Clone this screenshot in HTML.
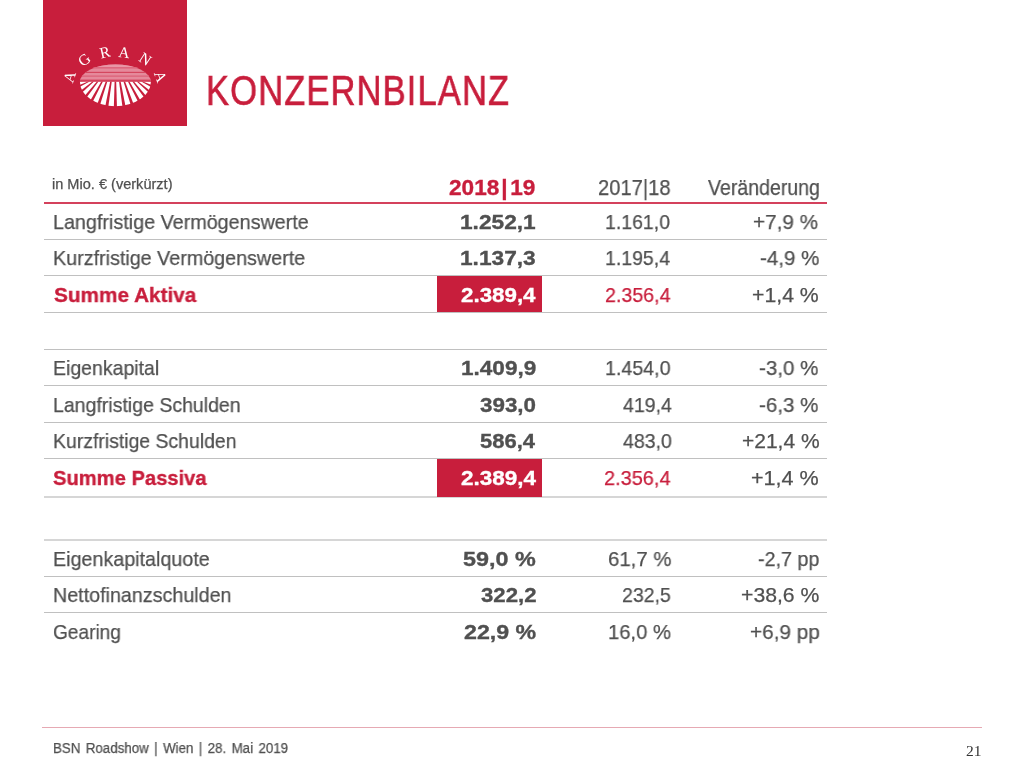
<!DOCTYPE html>
<html><head><meta charset="utf-8"><style>
html,body{margin:0;padding:0;background:#fff;width:1024px;height:768px;overflow:hidden;position:relative}
div,svg{will-change:transform}
</style></head><body>
<svg width="1024" height="130" style="position:absolute;left:0;top:0">
<rect x="43" y="0" width="144" height="126" fill="#c81e3c"/>
<defs><clipPath id="tp"><path d="M79.9,81.8 A35.5,17.4 0 0 1 150.9,81.8 Z"/></clipPath></defs>
<g clip-path="url(#tp)">
<rect x="70" y="60" width="90" height="21.799999999999997" fill="#e5899b"/>
<rect x="70" y="60" width="90" height="7.5" fill="#e896a6"/>
<rect x="70" y="67.3" width="90" height="1.1" fill="#d9566f"/>
<rect x="70" y="71.8" width="90" height="1.2" fill="#d4475f"/>
<rect x="70" y="75.6" width="90" height="1.0" fill="#d9566f"/>
<rect x="70" y="79.6" width="90" height="2.3" fill="#d4405a"/>
</g>
<defs><clipPath id="bt"><path d="M79.9,81.8 A35.5,24.4 0 0 0 150.9,81.8 Z"/></clipPath></defs>
<g clip-path="url(#bt)">
<polygon points="85.23,81.50 88.06,81.50 77.48,85.67 77.29,84.71 77.16,83.74 77.09,82.77 77.06,81.80" fill="#fff"/>
<polygon points="142.74,81.50 145.58,81.50 153.74,81.80 153.71,82.77 153.64,83.74 153.51,84.71 153.32,85.67" fill="#fff"/>
<polygon points="89.65,81.50 92.48,81.50 79.76,91.52 79.27,90.61 78.82,89.69 78.42,88.76 78.07,87.82" fill="#fff"/>
<polygon points="138.32,81.50 141.15,81.50 152.73,87.82 152.38,88.76 151.98,89.69 151.53,90.61 151.04,91.52" fill="#fff"/>
<polygon points="94.07,81.50 96.91,81.50 83.93,96.85 83.15,96.05 82.40,95.22 81.71,94.38 81.06,93.51" fill="#fff"/>
<polygon points="133.89,81.50 136.73,81.50 149.74,93.51 149.09,94.38 148.40,95.22 147.65,96.05 146.87,96.85" fill="#fff"/>
<polygon points="98.50,81.50 101.33,81.50 89.76,101.39 88.73,100.73 87.73,100.04 86.77,99.33 85.85,98.59" fill="#fff"/>
<polygon points="129.47,81.50 132.30,81.50 144.95,98.59 144.03,99.33 143.07,100.04 142.07,100.73 141.04,101.39" fill="#fff"/>
<polygon points="102.92,81.50 105.75,81.50 96.95,104.90 95.72,104.42 94.52,103.90 93.35,103.36 92.21,102.79" fill="#fff"/>
<polygon points="125.05,81.50 127.88,81.50 138.59,102.79 137.45,103.36 136.28,103.90 135.08,104.42 133.85,104.90" fill="#fff"/>
<polygon points="107.35,81.50 110.18,81.50 105.11,107.18 103.75,106.91 102.42,106.59 101.10,106.25 99.79,105.87" fill="#fff"/>
<polygon points="120.62,81.50 123.45,81.50 131.01,105.87 129.70,106.25 128.38,106.59 127.05,106.91 125.69,107.18" fill="#fff"/>
<polygon points="111.77,81.50 114.60,81.50 113.81,108.13 112.40,108.07 110.99,107.98 109.59,107.85 108.20,107.68" fill="#fff"/>
<polygon points="116.20,81.50 119.03,81.50 122.60,107.68 121.21,107.85 119.81,107.98 118.40,108.07 116.99,108.13" fill="#fff"/>
</g>
<text transform="translate(69.7,77) rotate(-72)" x="0" y="5" text-anchor="middle" font-family="Liberation Serif" font-size="15.5" fill="#fff">A</text>
<text transform="translate(84.3,59.9) rotate(-38)" x="0" y="5" text-anchor="middle" font-family="Liberation Serif" font-size="15.5" fill="#fff">G</text>
<text transform="translate(104.8,52.5) rotate(-13)" x="0" y="5" text-anchor="middle" font-family="Liberation Serif" font-size="15.5" fill="#fff">R</text>
<text transform="translate(124.2,52.5) rotate(6)" x="0" y="5" text-anchor="middle" font-family="Liberation Serif" font-size="15.5" fill="#fff">A</text>
<text transform="translate(145.2,59.2) rotate(33)" x="0" y="5" text-anchor="middle" font-family="Liberation Serif" font-size="15.5" fill="#fff">N</text>
<text transform="translate(160.3,76.6) rotate(70)" x="0" y="5" text-anchor="middle" font-family="Liberation Serif" font-size="15.5" fill="#fff">A</text>
</svg>
<div style="position:absolute;left:206.24px;top:65.77px;font:normal 42.6px/48.95px 'Liberation Sans';color:#c81e3c;white-space:nowrap;transform:scaleX(0.8126);transform-origin:0 0;-webkit-text-stroke:0.25px #c81e3c;"><span style="letter-spacing:1.3px;-webkit-text-stroke:0.6px #c81e3c">KONZERNBILANZ</span></div><div style="position:absolute;left:52.35px;top:176.11px;font:normal 14px/16.09px 'Liberation Sans';color:#505050;white-space:nowrap;transform:scaleX(1.0395);transform-origin:0 0;-webkit-text-stroke:0.25px #505050;">in Mio. € (verkürzt)</div><div style="position:absolute;left:448.80px;top:174.74px;font:bold 22px/25.28px 'Liberation Sans';color:#c81e3c;white-space:nowrap;transform:scaleX(1.0276);transform-origin:0 0;-webkit-text-stroke:0.35px #c81e3c;">2018<span style="margin:0 2.5px 0 2px">|</span>19</div><div style="position:absolute;left:597.92px;top:174.74px;font:normal 22px/25.28px 'Liberation Sans';color:#505050;white-space:nowrap;transform:scaleX(0.9158);transform-origin:0 0;-webkit-text-stroke:0.25px #505050;">2017|18</div><div style="position:absolute;left:707.58px;top:174.74px;font:normal 22px/25.28px 'Liberation Sans';color:#505050;white-space:nowrap;transform:scaleX(0.8883);transform-origin:0 0;-webkit-text-stroke:0.25px #505050;">Veränderung</div><div style="position:absolute;left:44px;top:202px;width:783px;height:2px;background:#d4415c"></div><div style="position:absolute;left:44px;top:239px;width:783px;height:1px;background:#c0c0c0"></div><div style="position:absolute;left:44px;top:275px;width:783px;height:1px;background:#c0c0c0"></div><div style="position:absolute;left:44px;top:312px;width:783px;height:1px;background:#c0c0c0"></div><div style="position:absolute;left:44px;top:349px;width:783px;height:1px;background:#c0c0c0"></div><div style="position:absolute;left:44px;top:385px;width:783px;height:1px;background:#c0c0c0"></div><div style="position:absolute;left:44px;top:422px;width:783px;height:1px;background:#c0c0c0"></div><div style="position:absolute;left:44px;top:458px;width:783px;height:1px;background:#c0c0c0"></div><div style="position:absolute;left:44px;top:576px;width:783px;height:1px;background:#c0c0c0"></div><div style="position:absolute;left:44px;top:612px;width:783px;height:1px;background:#c0c0c0"></div><div style="position:absolute;left:44px;top:496px;width:783px;height:2px;background:#d6d6d6"></div><div style="position:absolute;left:44px;top:539px;width:783px;height:2px;background:#d6d6d6"></div><div style="position:absolute;left:437px;top:276px;width:105px;height:36px;background:#c81e3c"></div><div style="position:absolute;left:437px;top:459px;width:105px;height:38px;background:#c81e3c"></div><div style="position:absolute;left:52.65px;top:209.66px;font:normal 21px/24.13px 'Liberation Sans';color:#505050;white-space:nowrap;transform:scaleX(0.9403);transform-origin:0 0;-webkit-text-stroke:0.25px #505050;">Langfristige Vermögenswerte</div><div style="position:absolute;left:459.92px;top:209.66px;font:bold 21px/24.13px 'Liberation Sans';color:#505050;white-space:nowrap;transform:scaleX(1.0807);transform-origin:0 0;-webkit-text-stroke:0.35px #505050;">1.252,1</div><div style="position:absolute;left:605.07px;top:209.66px;font:normal 21px/24.13px 'Liberation Sans';color:#505050;white-space:nowrap;transform:scaleX(0.9274);transform-origin:0 0;-webkit-text-stroke:0.25px #505050;">1.161,0</div><div style="position:absolute;left:753.45px;top:209.66px;font:normal 21px/24.13px 'Liberation Sans';color:#505050;white-space:nowrap;transform:scaleX(0.9874);transform-origin:0 0;-webkit-text-stroke:0.25px #505050;">+7,9 %</div><div style="position:absolute;left:52.65px;top:245.66px;font:normal 21px/24.13px 'Liberation Sans';color:#505050;white-space:nowrap;transform:scaleX(0.9394);transform-origin:0 0;-webkit-text-stroke:0.25px #505050;">Kurzfristige Vermögenswerte</div><div style="position:absolute;left:459.92px;top:245.66px;font:bold 21px/24.13px 'Liberation Sans';color:#505050;white-space:nowrap;transform:scaleX(1.0807);transform-origin:0 0;-webkit-text-stroke:0.35px #505050;">1.137,3</div><div style="position:absolute;left:605.08px;top:245.66px;font:normal 21px/24.13px 'Liberation Sans';color:#505050;white-space:nowrap;transform:scaleX(0.9282);transform-origin:0 0;-webkit-text-stroke:0.25px #505050;">1.195,4</div><div style="position:absolute;left:759.59px;top:245.66px;font:normal 21px/24.13px 'Liberation Sans';color:#505050;white-space:nowrap;transform:scaleX(0.9782);transform-origin:0 0;-webkit-text-stroke:0.25px #505050;">-4,9 %</div><div style="position:absolute;left:53.78px;top:282.66px;font:bold 21px/24.13px 'Liberation Sans';color:#c81e3c;white-space:nowrap;transform:scaleX(0.9886);transform-origin:0 0;-webkit-text-stroke:0.35px #c81e3c;">Summe Aktiva</div><div style="position:absolute;left:460.84px;top:282.66px;font:bold 21px/24.13px 'Liberation Sans';color:#fff;white-space:nowrap;transform:scaleX(1.0636);transform-origin:0 0;-webkit-text-stroke:0.35px #fff;">2.389,4</div><div style="position:absolute;left:604.89px;top:282.66px;font:normal 21px/24.13px 'Liberation Sans';color:#c81e3c;white-space:nowrap;transform:scaleX(0.9351);transform-origin:0 0;-webkit-text-stroke:0.25px #c81e3c;">2.356,4</div><div style="position:absolute;left:752.39px;top:282.66px;font:normal 21px/24.13px 'Liberation Sans';color:#505050;white-space:nowrap;transform:scaleX(1.0120);transform-origin:0 0;-webkit-text-stroke:0.25px #505050;">+1,4 %</div><div style="position:absolute;left:52.65px;top:355.66px;font:normal 21px/24.13px 'Liberation Sans';color:#505050;white-space:nowrap;transform:scaleX(0.9280);transform-origin:0 0;-webkit-text-stroke:0.25px #505050;">Eigenkapital</div><div style="position:absolute;left:460.85px;top:355.66px;font:bold 21px/24.13px 'Liberation Sans';color:#505050;white-space:nowrap;transform:scaleX(1.0745);transform-origin:0 0;-webkit-text-stroke:0.35px #505050;">1.409,9</div><div style="position:absolute;left:605.48px;top:355.66px;font:normal 21px/24.13px 'Liberation Sans';color:#505050;white-space:nowrap;transform:scaleX(0.9348);transform-origin:0 0;-webkit-text-stroke:0.25px #505050;">1.454,0</div><div style="position:absolute;left:758.83px;top:355.66px;font:normal 21px/24.13px 'Liberation Sans';color:#505050;white-space:nowrap;transform:scaleX(0.9788);transform-origin:0 0;-webkit-text-stroke:0.25px #505050;">-3,0 %</div><div style="position:absolute;left:52.66px;top:392.66px;font:normal 21px/24.13px 'Liberation Sans';color:#505050;white-space:nowrap;transform:scaleX(0.9291);transform-origin:0 0;-webkit-text-stroke:0.25px #505050;">Langfristige Schulden</div><div style="position:absolute;left:479.99px;top:392.66px;font:bold 21px/24.13px 'Liberation Sans';color:#505050;white-space:nowrap;transform:scaleX(1.0658);transform-origin:0 0;-webkit-text-stroke:0.35px #505050;">393,0</div><div style="position:absolute;left:622.58px;top:392.66px;font:normal 21px/24.13px 'Liberation Sans';color:#505050;white-space:nowrap;transform:scaleX(0.9326);transform-origin:0 0;-webkit-text-stroke:0.25px #505050;">419,4</div><div style="position:absolute;left:758.83px;top:392.66px;font:normal 21px/24.13px 'Liberation Sans';color:#505050;white-space:nowrap;transform:scaleX(0.9788);transform-origin:0 0;-webkit-text-stroke:0.25px #505050;">-6,3 %</div><div style="position:absolute;left:52.67px;top:428.66px;font:normal 21px/24.13px 'Liberation Sans';color:#505050;white-space:nowrap;transform:scaleX(0.9248);transform-origin:0 0;-webkit-text-stroke:0.25px #505050;">Kurzfristige Schulden</div><div style="position:absolute;left:479.88px;top:428.66px;font:bold 21px/24.13px 'Liberation Sans';color:#505050;white-space:nowrap;transform:scaleX(1.0467);transform-origin:0 0;-webkit-text-stroke:0.35px #505050;">586,4</div><div style="position:absolute;left:622.60px;top:428.66px;font:normal 21px/24.13px 'Liberation Sans';color:#505050;white-space:nowrap;transform:scaleX(0.9318);transform-origin:0 0;-webkit-text-stroke:0.25px #505050;">483,0</div><div style="position:absolute;left:742.17px;top:428.66px;font:normal 21px/24.13px 'Liberation Sans';color:#505050;white-space:nowrap;transform:scaleX(0.9959);transform-origin:0 0;-webkit-text-stroke:0.25px #505050;">+21,4 %</div><div style="position:absolute;left:52.81px;top:465.66px;font:bold 21px/24.13px 'Liberation Sans';color:#c81e3c;white-space:nowrap;transform:scaleX(0.9601);transform-origin:0 0;-webkit-text-stroke:0.35px #c81e3c;">Summe Passiva</div><div style="position:absolute;left:460.99px;top:465.66px;font:bold 21px/24.13px 'Liberation Sans';color:#fff;white-space:nowrap;transform:scaleX(1.0710);transform-origin:0 0;-webkit-text-stroke:0.35px #fff;">2.389,4</div><div style="position:absolute;left:604.46px;top:465.66px;font:normal 21px/24.13px 'Liberation Sans';color:#c81e3c;white-space:nowrap;transform:scaleX(0.9499);transform-origin:0 0;-webkit-text-stroke:0.25px #c81e3c;">2.356,4</div><div style="position:absolute;left:751.01px;top:465.66px;font:normal 21px/24.13px 'Liberation Sans';color:#505050;white-space:nowrap;transform:scaleX(1.0272);transform-origin:0 0;-webkit-text-stroke:0.25px #505050;">+1,4 %</div><div style="position:absolute;left:52.65px;top:546.66px;font:normal 21px/24.13px 'Liberation Sans';color:#505050;white-space:nowrap;transform:scaleX(0.9387);transform-origin:0 0;-webkit-text-stroke:0.25px #505050;">Eigenkapitalquote</div><div style="position:absolute;left:463.21px;top:546.66px;font:bold 21px/24.13px 'Liberation Sans';color:#505050;white-space:nowrap;transform:scaleX(1.1112);transform-origin:0 0;-webkit-text-stroke:0.35px #505050;">59,0 %</div><div style="position:absolute;left:608.19px;top:546.66px;font:normal 21px/24.13px 'Liberation Sans';color:#505050;white-space:nowrap;transform:scaleX(0.9705);transform-origin:0 0;-webkit-text-stroke:0.25px #505050;">61,7 %</div><div style="position:absolute;left:758.04px;top:546.66px;font:normal 21px/24.13px 'Liberation Sans';color:#505050;white-space:nowrap;transform:scaleX(0.9387);transform-origin:0 0;-webkit-text-stroke:0.25px #505050;">-2,7 pp</div><div style="position:absolute;left:52.66px;top:582.66px;font:normal 21px/24.13px 'Liberation Sans';color:#505050;white-space:nowrap;transform:scaleX(0.9381);transform-origin:0 0;-webkit-text-stroke:0.25px #505050;">Nettofinanzschulden</div><div style="position:absolute;left:480.58px;top:582.66px;font:bold 21px/24.13px 'Liberation Sans';color:#505050;white-space:nowrap;transform:scaleX(1.0561);transform-origin:0 0;-webkit-text-stroke:0.35px #505050;">322,2</div><div style="position:absolute;left:622.07px;top:582.66px;font:normal 21px/24.13px 'Liberation Sans';color:#505050;white-space:nowrap;transform:scaleX(0.9310);transform-origin:0 0;-webkit-text-stroke:0.25px #505050;">232,5</div><div style="position:absolute;left:741.18px;top:582.66px;font:normal 21px/24.13px 'Liberation Sans';color:#505050;white-space:nowrap;transform:scaleX(1.0098);transform-origin:0 0;-webkit-text-stroke:0.25px #505050;">+38,6 %</div><div style="position:absolute;left:52.65px;top:619.66px;font:normal 21px/24.13px 'Liberation Sans';color:#505050;white-space:nowrap;transform:scaleX(0.9092);transform-origin:0 0;-webkit-text-stroke:0.25px #505050;">Gearing</div><div style="position:absolute;left:463.53px;top:619.66px;font:bold 21px/24.13px 'Liberation Sans';color:#505050;white-space:nowrap;transform:scaleX(1.1033);transform-origin:0 0;-webkit-text-stroke:0.35px #505050;">22,9 %</div><div style="position:absolute;left:608.44px;top:619.66px;font:normal 21px/24.13px 'Liberation Sans';color:#505050;white-space:nowrap;transform:scaleX(0.9620);transform-origin:0 0;-webkit-text-stroke:0.25px #505050;">16,0 %</div><div style="position:absolute;left:749.81px;top:619.66px;font:normal 21px/24.13px 'Liberation Sans';color:#505050;white-space:nowrap;transform:scaleX(0.9885);transform-origin:0 0;-webkit-text-stroke:0.25px #505050;">+6,9 pp</div><div style="position:absolute;left:42px;top:727px;width:940px;height:1px;background:#e6a9b3"></div><div style="position:absolute;left:53.04px;top:740.11px;font:normal 14px/16.09px 'Liberation Sans';color:#505050;white-space:nowrap;transform:scaleX(0.9515);transform-origin:0 0;-webkit-text-stroke:0.25px #505050;"><span style="word-spacing:1.8px">BSN Roadshow | Wien | 28. Mai 2019</span></div><div style="position:absolute;left:965.89px;top:741.72px;font:normal 15.5px/17.81px 'Liberation Serif';color:#333;white-space:nowrap;transform:scaleX(0.9958);transform-origin:0 0;">21</div>
</body></html>
